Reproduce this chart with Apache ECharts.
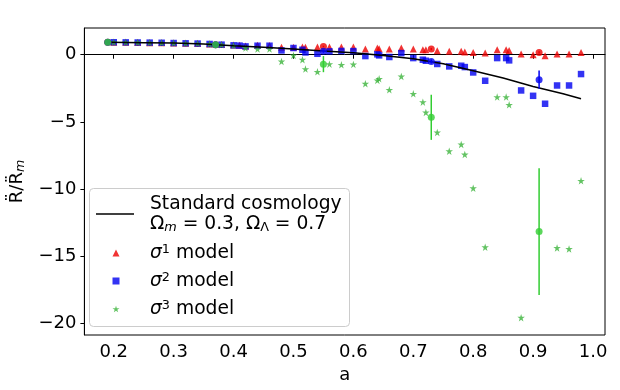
<!DOCTYPE html>
<html>
<head>
<meta charset="utf-8">
<script src="https://cdn.jsdelivr.net/npm/echarts@6/dist/echarts.min.js"></script>
<style>html,body{margin:0;padding:0;background:#fff;}#c{width:620px;height:390px;}</style>
</head>
<body>
<div id="c"></div>
<script>
// ---- data ----
const aPts = [0.20,0.22,0.24,0.26,0.28,0.30,0.32,0.34,0.36,0.38,0.40,0.41,0.42,0.44,0.46,0.48,0.50,0.515,0.52,0.54,0.56,0.58,0.60,0.62,0.64,0.643,0.66,0.68,0.70,0.716,0.721,0.74,0.76,0.78,0.786,0.80,0.82,0.84,0.855,0.86,0.88,0.90,0.92,0.94,0.96,0.98];
const sigma1 = [0.93,0.92,0.91,0.90,0.89,0.87,0.85,0.83,0.80,0.77,0.72,0.70,0.65,0.70,0.68,0.55,0.55,0.58,0.55,0.57,0.57,0.57,0.57,0.42,0.50,0.45,0.42,0.50,0.42,0.37,0.37,0.30,0.25,0.25,0.20,0.17,0.12,0.37,0.37,0.32,0.05,0.0,-0.07,0.05,0.05,0.17];
const sigma2 = [0.93,0.92,0.91,0.90,0.89,0.87,0.85,0.83,0.80,0.75,0.70,0.68,0.62,0.67,0.67,0.32,0.50,0.37,0.17,0.07,0.25,0.28,0.27,-0.10,0.03,-0.05,-0.17,0.12,-0.25,-0.37,-0.45,-0.69,-0.87,-0.82,-0.92,-1.32,-1.94,-0.25,-0.25,-0.42,-2.66,-3.06,-3.65,-2.29,-2.29,-1.44];
const sigma3 = [0.93,0.92,0.91,0.90,0.89,0.87,0.85,0.83,0.80,0.75,0.68,null,0.50,0.42,0.42,-0.50,-0.05,-0.37,-1.07,-1.27,-0.70,-0.75,-0.72,-2.16,-1.91,-1.79,-2.61,-1.62,-2.91,-3.53,-4.30,-5.79,-7.18,-6.68,-7.43,-9.94,-14.33,-3.15,-3.15,-3.73,-19.58,null,null,-14.39,-14.46,-9.39];

const aBins = [0.19,0.37,0.55,0.73,0.91];
const sigma1Mean = [0.92,0.75,0.62,0.42,0.17];
const sigma1Err  = [0.02,0.03,0.05,0.08,0.08];
const sigma2Mean = [0.92,0.75,0.25,-0.50,-1.86];
const sigma2Err  = [0.02,0.03,0.10,0.15,0.68];
const sigma3Mean = [0.92,0.75,-0.70,-4.66,-13.17];
const sigma3Err  = [0.02,0.05,0.60,1.68,4.72];

const aStd = [0.19,0.25,0.30,0.35,0.40,0.45,0.50,0.55,0.60,0.65,0.70,0.75,0.80,0.85,0.90,0.95,0.98];
const stdVals = [0.92,0.90,0.87,0.80,0.67,0.55,0.42,0.28,0.15,-0.05,-0.30,-0.67,-1.19,-1.74,-2.36,-2.91,-3.28];

const xTicks = [0.2,0.3,0.4,0.5,0.6,0.7,0.8,0.9,1.0];
const yTicks = [0,-5,-10,-15,-20];

// ---- chart ----
const FONT = 'DejaVu Sans';
const RED = '#ee0000', BLUE = '#0000f0', GREEN = '#3cb43c', GREEN2 = '#32cd32';
const STAR = 'path://M100,0 L122.45,69.1 L195.1,69.1 L136.3,111.8 L158.8,180.9 L100,138.2 L41.2,180.9 L63.7,111.8 L4.9,69.1 L77.55,69.1 Z';

const pairs = (xs, ys) => xs.map((x, i) => [x, ys[i]]).filter(p => p[1] !== null);
const bars = (xs, m, e) => xs.map((x, i) => [x, m[i] - e[i], m[i] + e[i]]);

function errSeries(data, color) {
  return {
    type: 'custom', data: data, z: 5, silent: true,
    encode: {x: 0, y: [1, 2]},
    renderItem: (params, api) => {
      const p1 = api.coord([api.value(0), api.value(1)]);
      const p2 = api.coord([api.value(0), api.value(2)]);
      return {type: 'line', shape: {x1: p1[0], y1: p1[1], x2: p2[0], y2: p2[1]},
              style: {stroke: color, lineWidth: 1.5}};
    }
  };
}

const labels = {
  std: 'Standard cosmology\nΩ{sub|m} = 0.3, Ω{subu|Λ} = 0.7',
  s1: '{i|σ}{sup|1} model',
  s2: '{i|σ}{sup|2} model',
  s3: '{i|σ}{sup|3} model'
};
const LFS = 18.7;
function legendText(padLeft) {
  return {fontSize: LFS, lineHeight: 20, color: '#000', fontFamily: FONT, padding: [0, 0, 0, padLeft],
    rich: {
      i: {fontSize: LFS, fontStyle: 'italic', fontFamily: FONT, color: '#000'},
      sup: {fontSize: 12.8, fontFamily: FONT, color: '#000', verticalAlign: 'top', padding: [0, 0, 8, 0]},
      sub: {fontSize: 12.8, fontStyle: 'italic', fontFamily: FONT, color: '#000', verticalAlign: 'bottom', padding: [8, 0, 0, 0]},
      subu: {fontSize: 12.8, fontFamily: FONT, color: '#000', verticalAlign: 'bottom', padding: [8, 0, 0, 0]}
    }};
}

const chart = echarts.init(document.getElementById('c'), null, {renderer: 'canvas'});
chart.setOption({
  animation: false,
  backgroundColor: '#fff',
  textStyle: {fontFamily: FONT},
  grid: {left: 80, right: 15, top: 28, bottom: 55, show: true, borderColor: '#000', borderWidth: 1, backgroundColor: 'transparent'},
  graphic: [{type: 'rect', left: 89, top: 188, z: 50, silent: true,
    shape: {width: 260, height: 138, r: 4}, style: {fill: '#fff', stroke: '#cccccc', lineWidth: 1}}],
  xAxis: {
    type: 'value', min: 0.151, max: 1.020,
    axisLine: {show: true, lineStyle: {color: '#000', width: 1}},
    axisTick: {show: true, customValues: xTicks, length: 4, lineStyle: {color: '#000', width: 1}},
    axisLabel: {customValues: xTicks, formatter: v => v.toFixed(1), fontSize: 18, color: '#000', fontFamily: FONT, margin: 8},
    splitLine: {show: false},
    name: 'a', nameLocation: 'middle', nameGap: 30,
    nameTextStyle: {fontSize: 18, color: '#000', fontFamily: FONT}
  },
  yAxis: {
    type: 'value', min: -20.87, max: 1.99,
    axisLine: {show: true, lineStyle: {color: '#000', width: 1}},
    axisTick: {show: true, customValues: yTicks, length: 4, lineStyle: {color: '#000', width: 1}},
    axisLabel: {customValues: yTicks, formatter: v => (v < 0 ? '\u2212' + Math.abs(v) : String(v)), fontSize: 18, color: '#000', fontFamily: FONT, margin: 8},
    splitLine: {show: false},
    name: 'R\u0308/R\u0308{sub|m}', nameLocation: 'middle', nameGap: 44,
    nameTextStyle: {fontSize: 18, color: '#000', fontFamily: FONT,
      rich: {sub: {fontSize: 12.6, fontStyle: 'italic', fontFamily: FONT, color: '#000', verticalAlign: 'bottom', padding: [8, 0, 0, 0]}}}
  },
  legend: [
    {
      orient: 'vertical', left: 96, top: 194, z: 60,
      itemWidth: 38, itemHeight: 1.5, padding: 0,
      data: [{name: 'std', icon: 'rect'}],
      formatter: name => labels[name],
      textStyle: legendText(11)
    },
    {
      orient: 'vertical', left: 112.5, top: 243, z: 60,
      itemWidth: 7, itemHeight: 7, itemGap: 8, padding: 0,
      data: ['s1', 's2', 's3'],
      formatter: name => labels[name],
      textStyle: legendText(25.5)
    }
  ],
  series: [
    {name: 's1', type: 'scatter', data: pairs(aPts, sigma1), symbol: 'triangle', symbolSize: 7, itemStyle: {color: RED}, z: 2},
    {name: 's2', type: 'scatter', data: pairs(aPts, sigma2), symbol: 'rect', symbolSize: 6.5, itemStyle: {color: BLUE}, z: 2},
    {name: 's3', type: 'scatter', data: pairs(aPts, sigma3), symbol: STAR, symbolSize: 7.5, itemStyle: {color: GREEN}, z: 2},
    {name: 'std', type: 'line', data: pairs(aStd, stdVals), showSymbol: false, symbol: 'none', smooth: false,
     lineStyle: {color: '#000', width: 1.5}, itemStyle: {color: '#000'}, z: 3},
    errSeries(bars(aBins, sigma1Mean, sigma1Err), RED),
    errSeries(bars(aBins, sigma2Mean, sigma2Err), BLUE),
    errSeries(bars(aBins, sigma3Mean, sigma3Err), GREEN2),
    {type: 'scatter', data: pairs(aBins, sigma1Mean), symbol: 'circle', symbolSize: 7, itemStyle: {color: RED}, z: 6},
    {type: 'scatter', data: pairs(aBins, sigma2Mean), symbol: 'circle', symbolSize: 7, itemStyle: {color: BLUE}, z: 6},
    {type: 'scatter', data: pairs(aBins, sigma3Mean), symbol: 'circle', symbolSize: 7, itemStyle: {color: GREEN2}, z: 6}
  ]
});
</script>
</body>
</html>
